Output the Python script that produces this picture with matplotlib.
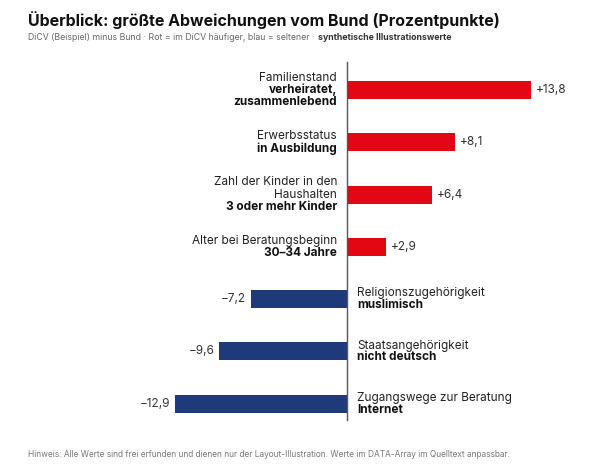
import matplotlib
matplotlib.use("Agg")
import matplotlib.pyplot as plt

plt.rcParams.update({"font.family": ["Inter", "DejaVu Sans"]})

# ── Daten ─────────────────────────────────────────────
kategorien = ["Familienstand", "Erwerbsstatus", "Zahl der Kinder in den\nHaushalten",
              "Alter bei Beratungsbeginn", "Religionszugehörigkeit",
              "Staatsangehörigkeit", "Zugangswege zur Beratung"]
auspraegung = ["verheiratet,\nzusammenlebend", "in Ausbildung", "3 oder mehr Kinder",
               "30–34 Jahre", "muslimisch", "nicht deutsch", "Internet"]
werte = [13.8, 8.1, 6.4, 2.9, -7.2, -9.6, -12.9]

ROT, BLAU = "#e30613", "#1f3a7a"
PX = 13.3     # Pixel pro Prozentpunkt
ROW = 52.3    # Zeilenabstand in Pixel

fig = plt.figure(figsize=(6.01, 4.69), dpi=100)
ax = fig.add_axes([0, 0, 1, 1])
ax.set_xlim(-347 / PX, (601 - 347) / PX)
ax.set_ylim((469 - 90) / ROW, -90 / ROW)
ax.axis("off")

n = len(werte)
ax.plot([0, 0], [-28 / ROW, n - 1 + 16 / ROW], color="#555555", lw=1)

for i, (k, a, v) in enumerate(zip(kategorien, auspraegung, werte)):
    farbe = ROT if v > 0 else BLAU
    ax.barh(i, v, height=18 / ROW, color=farbe)
    wert_txt = f"{v:+.1f}".replace(".", ",").replace("-", "−")
    off = 5 / PX
    if v > 0:
        ax.text(v + off, i, wert_txt, ha="left", va="center", fontsize=8.5, color="#333333")
        x_lab, ha = -10 / PX, "right"
    else:
        ax.text(v - off, i, wert_txt, ha="right", va="center", fontsize=8.5, color="#333333")
        x_lab, ha = 10 / PX, "left"
    n_k, n_a = k.count("\n") + 1, a.count("\n") + 1
    lh = 12 / ROW
    top = i - (n_k + n_a) * lh / 2
    ax.text(x_lab, top + n_k * lh / 2, k, ha=ha, va="center", fontsize=8.5,
            color="#222222", linespacing=1.05, multialignment=ha)
    ax.text(x_lab, top + n_k * lh + n_a * lh / 2, a, ha=ha, va="center", fontsize=8.5,
            fontweight="bold", color="#111111", linespacing=1.05, multialignment=ha)

fig.text(28 / 601, 1 - 20 / 469, "Überblick: größte Abweichungen vom Bund (Prozentpunkte)",
         fontsize=11.5, fontweight="bold", va="center", color="#111111")
t1 = fig.text(28 / 601, 1 - 38 / 469,
              "DiCV (Beispiel) minus Bund · Rot = im DiCV häufiger, blau = seltener · ",
              fontsize=6.3, va="center", color="#666666")
fig.canvas.draw()
bb = t1.get_window_extent()
fig.text(bb.x1 / 601 + 1 / 601, 1 - 38 / 469, "synthetische Illustrationswerte",
         fontsize=6.3, va="center", color="#333333", fontweight="bold")
fig.text(28 / 601, 1 - 454 / 469,
         "Hinweis: Alle Werte sind frei erfunden und dienen nur der Layout-Illustration. Werte im DATA-Array im Quelltext anpassbar.",
         fontsize=6, va="center", color="#777777")

fig.savefig("out.png", dpi=100)
